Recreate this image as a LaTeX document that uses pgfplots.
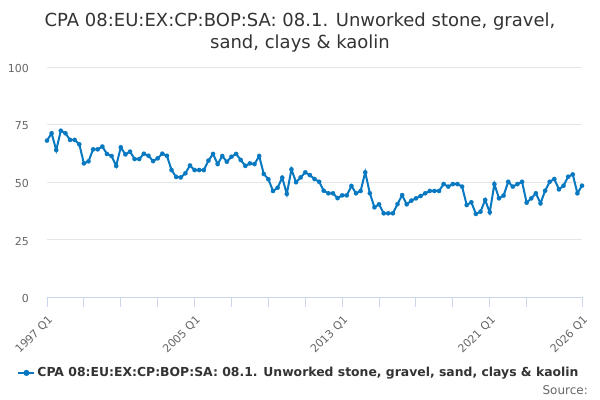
\documentclass[border=0pt]{standalone}
\usepackage{pgfplots}
\pgfplotsset{compat=1.18}
\usepackage{fontspec}
\setmainfont{DejaVu Sans}
\definecolor{line}{RGB}{8,120,192}
\definecolor{txt}{HTML}{333333}
\definecolor{tick}{HTML}{666666}
\definecolor{axl}{HTML}{CCD6EB}
\definecolor{grd}{HTML}{E6E6E6}
\begin{document}
\begin{tikzpicture}
\path[use as bounding box] (0,0) rectangle (600bp,-400bp);
\node[anchor=base, font=\fontsize{18bp}{21bp}\selectfont, text=txt, inner sep=0pt] at (300bp,-26.5bp) {CPA 08:EU:EX:CP:BOP:SA: 08.1. Unworked stone, gravel,};
\node[anchor=base, font=\fontsize{18bp}{21bp}\selectfont, text=txt, inner sep=0pt] at (300bp,-48bp) {sand, clays \& kaolin};
\node[anchor=base east, font=\fontsize{12bp}{14bp}\selectfont, text=tick, inner sep=0pt] at (588bp,-394bp) {Source:};
\begin{axis}[
  at={(47bp,-297bp)}, anchor=south west,
  scale only axis, width=535bp, height=230bp,
  xmin=0, xmax=116, ymin=0, ymax=100,
  axis y line=left, axis x line=bottom,
  y axis line style={draw=none},
  x axis line style={draw=axl, line width=1bp, -},
  ytick={0,25,50,75,100},
  ymajorgrids, grid style={grd, line width=1bp},
  major y tick style={draw=none},
  xtick={0,32,64,96,116},
  xticklabels={1997 Q1,2005 Q1,2013 Q1,2021 Q1,2026 Q1},
  minor xtick={8,16,24,40,48,56,72,80,88,104},
  major x tick style={draw=axl, line width=1bp},
  minor x tick style={draw=axl, line width=1bp},
  xtick align=outside, major tick length=10bp, minor tick length=10bp,
  tick label style={font=\fontsize{11bp}{13bp}\selectfont, text=tick},
  /pgf/number format/assume math mode=true,
  yticklabel style={anchor=east, inner sep=0pt, xshift=-13bp, yshift=-1.5bp},
  xticklabel style={rotate=45, anchor=east, inner sep=0pt, xshift=-5bp, yshift=-10.6bp},
  legend style={at={(0.471,-0.330)}, anchor=center, draw=none, fill=none, inner sep=0pt,
    font=\fontsize{12.4bp}{14bp}\selectfont\bfseries, text=txt,
    /tikz/every even column/.append style={column sep=0pt}},
  legend cell align=left,
  legend image code/.code={\draw[line width=2bp] (0bp,0bp) -- (16bp,0bp); \fill (8bp,0bp) circle (2bp);},
  clip=false,
]
\addplot[line, line width=2bp, mark=*, mark size=2.2bp, mark options={draw=line, fill=line, line width=0.1bp}] coordinates {
(0,68.0)(1,71.2)(2,63.9)(3,72.3)(4,71.2)(5,68.3)(6,68.3)(7,66.4)(8,58.1)(9,59.0)
(10,64.2)(11,64.2)(12,65.4)(13,62.2)(14,61.3)(15,57.0)(16,65.1)(17,62.0)(18,63.2)(19,60.0)
(20,60.0)(21,62.3)(22,61.4)(23,59.1)(24,60.3)(25,62.3)(26,61.4)(27,55.2)(28,52.2)(29,52.0)
(30,53.8)(31,57.2)(32,55.2)(33,55.2)(34,55.2)(35,59.3)(36,62.2)(37,57.8)(38,61.3)(39,58.8)
(40,61.0)(41,62.2)(42,59.6)(43,57.0)(44,58.1)(45,57.8)(46,61.3)(47,53.5)(48,51.2)(49,46.1)
(50,47.5)(51,51.9)(52,44.8)(53,55.5)(54,49.9)(55,52.0)(56,54.2)(57,53.0)(58,51.3)(59,50.1)
(60,46.2)(61,45.1)(62,45.1)(63,43.0)(64,44.2)(65,44.2)(66,48.3)(67,45.1)(68,46.1)(69,54.2)
(70,45.1)(71,39.0)(72,40.3)(73,36.4)(74,36.4)(75,36.4)(76,40.4)(77,44.3)(78,40.3)(79,41.9)
(80,42.9)(81,43.9)(82,45.1)(83,46.1)(84,46.1)(85,46.1)(86,49.1)(87,48.0)(88,49.1)(89,49.1)
(90,48.0)(91,40.0)(92,41.2)(93,36.1)(94,37.1)(95,42.2)(96,36.8)(97,49.1)(98,42.9)(99,44.1)
(100,50.1)(101,48.0)(102,49.1)(103,50.1)(104,41.0)(105,42.9)(106,45.1)(107,40.7)(108,46.2)(109,50.1)
(110,51.3)(111,46.8)(112,48.4)(113,52.3)(114,53.3)(115,45.1)(116,48.4)
};
\addlegendentry{CPA 08:EU:EX:CP:BOP:SA: 08.1. Unworked stone, gravel, sand, clays \& kaolin}
\end{axis}
\end{tikzpicture}
\end{document}
